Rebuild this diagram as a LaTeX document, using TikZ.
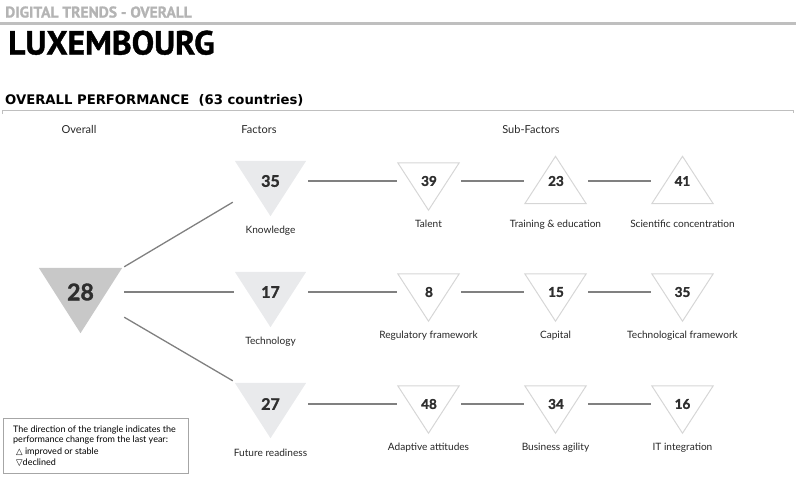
\documentclass[tikz,border=0pt]{standalone}
\usepackage{fontspec}
\setmainfont{Lato}
\newfontfamily\ptsans[BoldFeatures={FakeBold=1.2}]{PT Sans}
\newfontfamily\numfont[BoldFeatures={FakeBold=1.6}]{Lato}
\newfontfamily\djv{DejaVu Sans}
\definecolor{titlec}{HTML}{B4B4B4}
\definecolor{rulec}{HTML}{BFBFBF}
\definecolor{bigc}{HTML}{C8C8C8}
\definecolor{facc}{HTML}{E9EAEC}
\definecolor{subc}{HTML}{D6D6D6}
\definecolor{connc}{HTML}{808080}
\definecolor{txtc}{HTML}{262626}
\definecolor{numc}{HTML}{2E2E2E}
\definecolor{legc}{HTML}{A6A6A6}
\begin{document}
\begin{tikzpicture}[x=1pt,y=-1pt,
  conn/.style={draw=connc, line width=1.3pt, shorten <=2pt, shorten >=1pt},
  bigbox/.style={inner sep=0pt, minimum width=83pt, minimum height=65pt},
  fbox/.style={inner sep=0pt, minimum width=71pt, minimum height=55pt},
  sbox/.style={inner sep=0pt, minimum width=61pt, minimum height=47pt},
  bignum/.style={font=\numfont\bfseries\fontsize{23}{23}\selectfont, text=numc, inner sep=0pt},
  num/.style={font=\numfont\bfseries\fontsize{16}{16}\selectfont, text=numc, inner sep=0pt},
  snum/.style={font=\numfont\bfseries\fontsize{13.5}{13.5}\selectfont, text=numc, inner sep=0pt},
  lbl/.style={font=\fontsize{10.1}{11}\selectfont, text=txtc, inner sep=0pt, anchor=base},
  hdr/.style={font=\fontsize{11}{11}\selectfont, text=txtc, inner sep=0pt, anchor=base},
  leg/.style={font=\fontsize{9}{10}\selectfont, text=black, inner sep=0pt, anchor=base west},
  subtri/.style={draw=subc, line width=1pt, line join=miter},
]
\useasboundingbox (0,0) rectangle (796,482);

% header
\node[anchor=base west, inner sep=0pt, text=titlec, font=\ptsans\bfseries\fontsize{15.5}{16}\selectfont] (title) at (5,17.5) {DIGITAL TRENDS - OVERALL};
\fill[rulec] (0,22) rectangle (796,25);
\node[anchor=base west, inner sep=0pt, text=black, font=\ptsans\bfseries\fontsize{33.5}{34}\selectfont] (country) at (8,54.5) {LUXEMBOURG};
\node[anchor=base west, inner sep=0pt, text=black, font=\djv\bfseries\fontsize{13.2}{13}\selectfont] (perf) at (5,104) {OVERALL PERFORMANCE\ \ (63 countries)};
\draw[rulec, line width=1pt] (2,114) -- (2,110) -- (793,110) -- (793,113);

% column headers
\node[hdr] (hov) at (79,133) {Overall};
\node[hdr] (hfa) at (259,133) {Factors};
\node[hdr] (hsf) at (531,133) {Sub-Factors};

% overall
\node[bigbox] (o) at (80.5,300.5) {};
\fill[bigc] (o.north west) -- (o.north east) -- (o.south) -- cycle;
\node[bignum] (on) at (80.5,292) {28};

% factors
\node[fbox] (k) at (270.5,188.5) {};
\fill[facc] (k.north west) -- (k.north east) -- (k.south) -- cycle;
\node[num] (kn) at (270.5,181) {35};
\node[lbl] (kl) at (270.5,233.5) {Knowledge};

\node[fbox] (te) at (270.5,299.5) {};
\fill[facc] (te.north west) -- (te.north east) -- (te.south) -- cycle;
\node[num] (ten) at (270.5,292) {17};
\node[lbl] (tel) at (270.5,344.3) {Technology};

\node[fbox] (f) at (270.5,410.5) {};
\fill[facc] (f.north west) -- (f.north east) -- (f.south) -- cycle;
\node[num] (fn) at (270.5,404) {27};
\node[lbl] (fl) at (270.5,456.7) {Future readiness};

% sub-factors row 1
\node[sbox] (s11) at (428.5,186.5) {};
\draw[subtri] (s11.north west) -- (s11.north east) -- (s11.south) -- cycle;
\node[snum] (s11n) at (429,181) {39};
\node[lbl] (s11l) at (428.5,227.3) {Talent};

\node[sbox] (s12) at (555.5,180) {};
\draw[subtri] (s12.south west) -- (s12.south east) -- (s12.north) -- cycle;
\node[snum] (s12n) at (556,181) {23};
\node[lbl] (s12l) at (555.5,227.3) {Training \& education};

\node[sbox] (s13) at (682.5,180) {};
\draw[subtri] (s13.south west) -- (s13.south east) -- (s13.north) -- cycle;
\node[snum] (s13n) at (682.5,181) {41};
\node[lbl] (s13l) at (682.5,227.3) {Scientific concentration};

% row 2
\node[sbox] (s21) at (428.5,297.5) {};
\draw[subtri] (s21.north west) -- (s21.north east) -- (s21.south) -- cycle;
\node[snum] (s21n) at (429,292) {8};
\node[lbl] (s21l) at (428.5,338.3) {Regulatory framework};

\node[sbox] (s22) at (555.5,297.5) {};
\draw[subtri] (s22.north west) -- (s22.north east) -- (s22.south) -- cycle;
\node[snum] (s22n) at (556,292) {15};
\node[lbl] (s22l) at (555.5,338.3) {Capital};

\node[sbox] (s23) at (682.5,297.5) {};
\draw[subtri] (s23.north west) -- (s23.north east) -- (s23.south) -- cycle;
\node[snum] (s23n) at (682.5,292) {35};
\node[lbl] (s23l) at (682.5,338.3) {Technological framework};

% row 3
\node[sbox] (s31) at (428.5,409.5) {};
\draw[subtri] (s31.north west) -- (s31.north east) -- (s31.south) -- cycle;
\node[snum] (s31n) at (429,404) {48};
\node[lbl] (s31l) at (428.5,450) {Adaptive attitudes};

\node[sbox] (s32) at (555.5,409.5) {};
\draw[subtri] (s32.north west) -- (s32.north east) -- (s32.south) -- cycle;
\node[snum] (s32n) at (556,404) {34};
\node[lbl] (s32l) at (555.5,450) {Business agility};

\node[sbox] (s33) at (682.5,409.5) {};
\draw[subtri] (s33.north west) -- (s33.north east) -- (s33.south) -- cycle;
\node[snum] (s33n) at (682.5,404) {16};
\node[lbl] (s33l) at (682.5,450) {IT integration};

% connectors overall -> factors
\draw[conn, shorten <=0pt, shorten >=0pt] ([shift={(2,-1)}]o.north east) -- ([shift={(-2,-14)}]k.south west);
\draw[conn] (o.east |- on) -- (te.west |- ten);
\draw[conn, shorten <=0pt, shorten >=0pt] ([shift={(2,-16)}]o.south east) -- ([shift={(-2,-2)}]f.north west);

% factor -> sub-factor chains
\draw[conn] (k.east |- kn) -- (s11.west |- s11n);
\draw[conn] (s11.east |- s11n) -- (s12.west |- s12n);
\draw[conn] (s12.east |- s12n) -- (s13.west |- s13n);
\draw[conn] (te.east |- ten) -- (s21.west |- s21n);
\draw[conn] (s21.east |- s21n) -- (s22.west |- s22n);
\draw[conn] (s22.east |- s22n) -- (s23.west |- s23n);
\draw[conn] (f.east |- fn) -- (s31.west |- s31n);
\draw[conn] (s31.east |- s31n) -- (s32.west |- s32n);
\draw[conn] (s32.east |- s32n) -- (s33.west |- s33n);

% legend
\node[draw=legc, line width=1pt, inner sep=0pt, minimum width=185pt, minimum height=55pt, anchor=north west] (legbox) at (3,418) {};
\node[leg] (leg1) at (13,432.3) {The direction of the triangle indicates the};
\node[leg] (leg2) at (13,442.7) {performance change from the last year:};
\node[leg] (leg3) at (16,454.3) {{\djv\fontsize{8.5}{9}\selectfont △} improved or stable};
\node[leg] (leg4) at (16,465) {{\djv\fontsize{8.5}{9}\selectfont ▽}declined};
\end{tikzpicture}
\end{document}
